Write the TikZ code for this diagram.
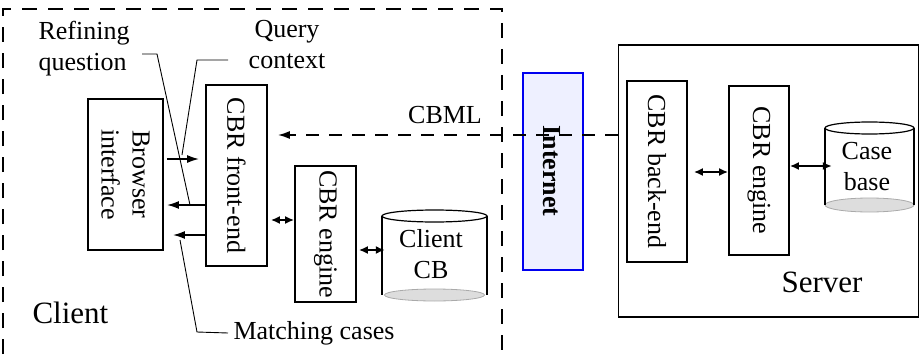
\documentclass[tikz,border=0pt]{standalone}
\usepackage{fontspec}
\setmainfont{Liberation Serif}
\usetikzlibrary{arrows.meta}
\definecolor{netfill}{HTML}{EEF0FF}
\definecolor{netblue}{HTML}{0000F0}
\definecolor{cylbot}{HTML}{DDDDDD}
\definecolor{cylbotline}{HTML}{AAAAAA}
\begin{document}
\begin{tikzpicture}[x=1pt,y=-1pt,
  font=\fontsize{26}{31}\selectfont,
  box/.style={draw, line width=1.8pt, inner sep=0pt},
  tip/.tip={Latex[length=12pt,width=8pt]},
  stip/.tip={Latex[length=9pt,width=8pt]},
  conn/.style={line width=1.7pt, -tip},
  dbl/.style={line width=1.7pt, stip-stip},
  callout/.style={line width=0.9pt},
  big/.style={font=\fontsize{31}{36}\selectfont},
  cylarea/.style={inner sep=0pt}
]
\useasboundingbox (0,0) rectangle (921,361);
% client dashed boundary
\begin{scope}
\clip (0,0) rectangle (921,361);
\draw[line width=1.8pt, dash pattern=on 15pt off 11pt] (3,380) -- (3,9) -- (502,9) -- (502,380);
\end{scope}

% client boxes
\node[box, minimum width=75pt, minimum height=151pt] (bi) at (125.5,174.5) {};
\node[rotate=-90, align=center] (bitext) at (bi) {Browser\\interface};
\node[box, minimum width=61pt, minimum height=181pt] (fe) at (236.5,175.5) {};
\node[rotate=-90] (fetext) at (fe) {CBR front-end};
\node[box, minimum width=61pt, minimum height=136pt] (ceng) at (325.5,234) {};
\node[rotate=-90] (cengtext) at (ceng) {CBR engine};

% client CB cylinder
\draw[cylbotline, fill=cylbot, line width=0.8pt] (434.5,295) ellipse [x radius=50pt, y radius=6pt];
\draw[line width=1.6pt] (382,216) -- (382,295) (487,216) -- (487,295);
\draw[line width=1.2pt, fill=white] (434.5,216) ellipse [x radius=52.5pt, y radius=6pt];
\node[cylarea, minimum width=105pt, minimum height=79pt] (ccb) at (434.5,255.5) {};
\node[align=center] (ccbtext) at (431,254) {Client\\CB};

% internet
\node[draw=netblue, fill=netfill, line width=1.6pt, inner sep=0pt, minimum width=60pt, minimum height=197pt] (net) at (553,171.5) {};
\node[rotate=-90, font=\fontsize{26}{31}\selectfont\bfseries] (nettext) at (552,171) {Internet};

% server
\node[box, minimum width=300pt, minimum height=272pt] (srv) at (768.5,181) {};
\node[box, minimum width=60pt, minimum height=181pt] (be) at (657,171.5) {};
\node[rotate=-90] (betext) at (be) {CBR back-end};
\node[box, minimum width=60pt, minimum height=169pt] (seng) at (759,170.5) {};
\node[rotate=-90] (sengtext) at (seng) {CBR engine};

% case base cylinder
\draw[cylbotline, fill=cylbot, line width=0.8pt] (869.5,205) ellipse [x radius=44.5pt, y radius=7pt];
\draw[line width=1.6pt] (825,128) -- (825,205) (914,128) -- (914,205);
\draw[line width=1.2pt, fill=white] (869.5,128) ellipse [x radius=44.5pt, y radius=6pt];
\node[cylarea, minimum width=89pt, minimum height=77pt] (cb) at (869.5,166.5) {};
\node[align=center] (cbtext) at (867,167) {Case\\base};

% labels
\node[big, anchor=west] (clientlbl) at (29,313) {Client};
\node[big] (serverlbl) at (822,282) {Server};
\node (cbml) at (445,115) {CBML};
\node[align=left, anchor=west] (refq) at (35,49) {Refining\\question};
\node[align=center] (qctx) at (287,45) {Query\\context};
\node[anchor=west] (mcases) at (230,333) {Matching cases};

% CBML dashed connector
\draw[line width=1.6pt, dash pattern=on 13pt off 10pt, -tip]
  (srv.west |- 0,135) -- ([xshift=10pt]fe.east |- 0,135);

% client connectors
\draw[conn] ([xshift=3pt]bi.east |- 0,159) -- ([xshift=-6pt]fe.west |- 0,159);
\draw[conn] (fe.west |- 0,205) -- ([xshift=3pt]bi.east |- 0,205);
\draw[conn] (fe.west |- 0,235) -- ([xshift=9pt]bi.east |- 0,235);
\draw[dbl] ([xshift=3pt]fe.east |- 0,220) -- (ceng.west |- 0,220);
\draw[dbl] ([xshift=2pt]ceng.east |- 0,250) -- ([xshift=3pt]ccb.west |- 0,250);

% server connectors
\draw[dbl] ([xshift=6pt]be.east |- 0,172) -- (seng.west |- 0,172);
\draw[dbl] (seng.east |- 0,166) -- ([xshift=7pt]cb.west |- 0,166);

% callouts
\coordinate (refend) at (190,205);
\coordinate (qend) at (182,155);
\coordinate (mend) at (180,240);
\draw[callout] (142,54) -- (157,54) -- (refend);
\draw[callout] (228,60) -- (197,60) -- (qend);
\draw[callout] (mcases.west) ++(-2pt,0) -- (197,332) -- (mend);
\end{tikzpicture}
\end{document}
